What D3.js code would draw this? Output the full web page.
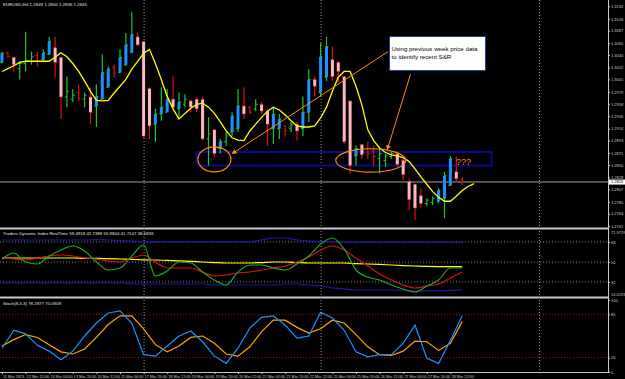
<!DOCTYPE html>
<html>
<head>
<meta charset="utf-8">
<script src="https://cdn.jsdelivr.net/npm/d3@7/dist/d3.min.js"></script>
<style>
  body { margin: 0; background: #000; }
  svg { display: block; font-family: "Liberation Sans", Arial, sans-serif; }
</style>
</head>
<body>
<div id="chart"></div>
<script>
// ---- data (EURUSD H4) ----
let open  = [1.3031,1.3048,1.3040,1.3020,1.3029,1.3033,1.3043,1.3036,1.3045,1.3057,1.3040,1.2970,1.2966,1.2978,1.2966,1.2970,1.2954,1.2966,1.2987,1.3022,1.3013,1.3027,1.3048,1.3076,1.3068,1.2985,1.2922,1.2940,1.2943,1.2966,1.2949,1.2957,1.2963,1.2966,1.2966,1.2896,1.2912,1.2879,1.2891,1.2908,1.2914,1.2954,1.2952,1.2949,1.2957,1.2945,1.2914,1.2914,1.2919,1.2914,1.2922,1.2914,1.2943,1.3001,1.2978,1.3005,1.3036,1.3031,1.3006,1.2963,1.2866,1.2886,1.2879,1.2875,1.2861,1.2858,1.2865,1.2870,1.2858,1.2821,1.2816,1.2796,1.2782,1.2784,1.2786,1.2791,1.2814,1.2838,1.2824];
let high  = [1.3050,1.3050,1.3041,1.3033,1.3085,1.3050,1.3050,1.3054,1.3076,1.3076,1.3041,1.3006,1.2984,1.2992,1.2978,1.2987,1.2992,1.3045,1.3024,1.3027,1.3054,1.3083,1.3120,1.3083,1.3068,1.2987,1.2949,1.2987,1.2984,1.3006,1.2978,1.2975,1.2966,1.2970,1.2970,1.2934,1.2914,1.2896,1.2908,1.2943,1.2984,1.2987,1.2954,1.2966,1.2961,1.2949,1.2952,1.2940,1.2919,1.2926,1.2926,1.2971,1.3019,1.3006,1.3066,1.3076,1.3059,1.3033,1.3006,1.2963,1.2884,1.2887,1.2891,1.2884,1.2879,1.2870,1.2873,1.2873,1.2861,1.2826,1.2817,1.2809,1.2791,1.2795,1.2809,1.2838,1.2866,1.2865,1.2828];
let low   = [1.3029,1.3040,1.3013,1.3001,1.3015,1.3027,1.3024,1.3033,1.3045,1.3005,1.2931,1.2952,1.2961,1.2963,1.2952,1.2922,1.2917,1.2966,1.2987,1.3005,1.3013,1.3024,1.3048,1.3059,1.2896,1.2896,1.2891,1.2928,1.2943,1.2949,1.2934,1.2952,1.2943,1.2943,1.2893,1.2849,1.2865,1.2870,1.2884,1.2901,1.2908,1.2931,1.2940,1.2945,1.2940,1.2884,1.2887,1.2896,1.2900,1.2908,1.2893,1.2901,1.2926,1.2971,1.2971,1.2998,1.2998,1.2996,1.2887,1.2835,1.2849,1.2861,1.2861,1.2849,1.2835,1.2847,1.2861,1.2847,1.2823,1.2770,1.2753,1.2774,1.2777,1.2779,1.2782,1.2756,1.2814,1.2821,1.2815];
let close = [1.3047,1.3041,1.3027,1.3029,1.3034,1.3041,1.3033,1.3048,1.3068,1.3031,1.2970,1.2980,1.2973,1.2968,1.2973,1.2943,1.2971,1.3013,1.3019,1.3012,1.3040,1.3062,1.3080,1.3062,1.2901,1.2919,1.2940,1.2952,1.2966,1.2952,1.2961,1.2966,1.2952,1.2949,1.2896,1.2905,1.2870,1.2891,1.2901,1.2936,1.2954,1.2940,1.2943,1.2957,1.2945,1.2922,1.2940,1.2931,1.2910,1.2921,1.2910,1.2943,1.3001,1.2989,1.3041,1.3059,1.3006,1.3015,1.2891,1.2849,1.2879,1.2868,1.2870,1.2865,1.2870,1.2866,1.2870,1.2851,1.2833,1.2789,1.2774,1.2782,1.2788,1.2791,1.2805,1.2831,1.2861,1.2826,1.2820];
// centred moving average (yellow), one value per bar, runs 2 bars past the last candle
let maLine = [1.3015,1.3020,1.3025,1.3031,1.3033,1.3033,1.3033,1.3033,1.3033,1.3040,1.3048,1.3041,1.3029,1.3015,1.2998,1.2980,1.2964,1.2963,1.2964,1.2977,1.2989,1.3001,1.3019,1.3033,1.3047,1.3054,1.3029,1.3001,1.2971,1.2949,1.2931,1.2941,1.2950,1.2957,1.2959,1.2952,1.2941,1.2926,1.2910,1.2898,1.2894,1.2893,1.2910,1.2922,1.2934,1.2945,1.2952,1.2947,1.2938,1.2928,1.2919,1.2917,1.2917,1.2919,1.2933,1.2952,1.2980,1.3005,1.3015,1.3015,1.2989,1.2956,1.2912,1.2893,1.2880,1.2872,1.2868,1.2866,1.2863,1.2856,1.2843,1.2829,1.2816,1.2803,1.2793,1.2786,1.2786,1.2795,1.2805,1.2812,1.2817];

let priceTicks = [1.3130,1.3108,1.3087,1.3065,1.3044,1.3022,1.3001,1.2979,1.2958,1.2936,1.2914,1.2893,1.2871,1.2850,1.2828,1.2807,1.2785,1.2764,1.2742];
let timeLabels = ["11 Mar 2013","12 Mar 12:00","13 Mar 04:00","13 Mar 20:00","14 Mar 12:00","15 Mar 04:00","17 Mar 20:00","18 Mar 12:00","19 Mar 04:00","19 Mar 20:00","20 Mar 12:00","21 Mar 04:00","21 Mar 20:00","22 Mar 12:00","25 Mar 04:00","25 Mar 20:00","26 Mar 12:00","27 Mar 04:00","27 Mar 20:00","28 Mar 12:00"];
let weekBreaks = [24, 54, 91];

// TDI lines, one value every 2 bars
let tdiGreen  = [52.7,58.1,50,48.2,55.4,60.8,64.4,59.9,50,42.8,44.6,55.4,65.3,37.4,41.9,50,49.1,41,33.8,29.3,41,47.3,47.3,44.6,42.8,48.2,55.4,66.2,71.6,61.7,42.8,36.5,33.8,29.3,25.7,23,28.4,33.8,44.6,44.6];
let tdiRed    = [53.6,52.7,51.8,53.6,55.4,56.3,55.4,53.6,52.7,50.9,50,53.6,56.3,50,44.6,44.6,44.6,41,37.4,38.3,40.1,41,42.8,44.6,46.4,50,54.5,60.8,64.4,60.8,53.6,46.4,39.2,33.8,29.3,26.6,28.4,30.2,35.6,41];
let tdiYellow = [53.6,53.6,53.6,53.6,53.6,53.6,53.6,53.2,53.2,53,52.7,52.3,52,51.8,51.4,51,50.5,50,49.5,49.1,49.1,49.1,49.5,50,50,49.5,49.1,49.1,49.1,49.1,48.6,48.2,47.8,47.3,46.8,46.4,46,45.9,45.9,45.9];
let tdiUpper  = [69.8,69.8,69.8,69.8,69.8,69.8,69.8,69.8,70.2,69.8,69.3,68.9,68.4,68.4,68.4,68.4,68.4,68.4,68.4,68.4,68.4,68.4,69.8,71.6,71.6,69.8,68.9,68.4,68.4,67.9,67.9,67.9,67.9,67.9,67.9,67.9,67.9,67.9,67.9,67.9];
let tdiLower  = [31.1,31.1,31.1,31.1,31.1,31.1,31.1,31.1,31.1,31.1,31.1,30.2,30.2,30.2,30.2,30.2,30.2,30.2,29.3,29.3,29.3,29.3,29.3,29.3,30.2,30.2,29.3,28.4,26.6,25.7,24.8,24.8,24.8,24.8,24.4,24,24,24,24.4,24.8];
let tdiLevels = [68, 50, 32];
let tdiRange  = ["71.9729", "14.0193"];

// Stochastic (8,3,3), one value every 2 bars
let stochMain   = [33,58,53,37,29,17,29,50,68,82,85,68,24,22,36,50,57,42,22,12,33,61,76,78,65,47,50,83,75,58,28,21,24,24,40,65,19,12,44,78];
let stochSignal = [36,45,52,48,38,28,25,32,48,66,78,78,60,38,28,36,48,50,40,25,22,35,56,72,72,62,54,60,72,68,52,35,24,23,29,43,42,30,40,70];
let stochLevels = [80, 20];

// ---- layout ----
const W = 625, H = 379;
const plotR = 608;
const main = {top: 0, bottom: 228};
const tdiP = {top: 229, bottom: 296};
const stoP = {top: 298, bottom: 372};

const svg = d3.select("#chart").append("svg")
    .attr("width", W).attr("height", H)
    .style("background", "#000");

const X = d3.scaleLinear().domain([0, 1]).range([2, 7.9]);
const Y = d3.scaleLinear().domain([1.31411, 1.27388]).range([main.top, main.bottom]);
const Ytdi = d3.scaleLinear().domain([68, 32]).range([242, 282]);
const Ysto = d3.scaleLinear().domain([100, 0]).range([300, 372]);

// panel frames
svg.append("g").selectAll("line")
    .data([main.bottom, tdiP.bottom + 1])
    .enter().append("line")
    .attr("x1", 0).attr("x2", plotR)
    .attr("y1", d => d + 0.5).attr("y2", d => d + 0.5)
    .attr("stroke", "#c8c8c8").attr("stroke-width", 2);
svg.append("line")
    .attr("x1", plotR + 0.5).attr("x2", plotR + 0.5)
    .attr("y1", 0).attr("y2", stoP.bottom)
    .attr("stroke", "#c8c8c8");
svg.append("line")
    .attr("x1", 0).attr("x2", plotR)
    .attr("y1", stoP.bottom + 0.5).attr("y2", stoP.bottom + 0.5)
    .attr("stroke", "#c8c8c8");

// week separators
svg.append("g").selectAll("line")
    .data(weekBreaks)
    .enter().append("line")
    .attr("x1", d => X(d) + 0.5).attr("x2", d => X(d) + 0.5)
    .attr("y1", 0).attr("y2", stoP.bottom)
    .attr("stroke", "#9a9a9a").attr("stroke-dasharray", "1,2");

// S&R box
svg.append("rect")
    .attr("x", X(33)).attr("y", Y(1.2873))
    .attr("width", X(83.0) - X(33)).attr("height", Y(1.2849) - Y(1.2873))
    .attr("fill", "none").attr("stroke", "#0a0a90").attr("stroke-width", 2);

// bid line
const bid = close[close.length - 1];
svg.append("line")
    .attr("x1", 0).attr("x2", plotR)
    .attr("y1", Y(bid)).attr("y2", Y(bid))
    .attr("stroke", "#a0a0a0");

// bars
const bars = svg.append("g").selectAll("g")
    .data(d3.range(open.length))
    .enter().append("g");
bars.append("line")
    .attr("x1", i => X(i)).attr("x2", i => X(i))
    .attr("y1", i => Y(high[i])).attr("y2", i => Y(low[i]))
    .attr("stroke", i => close[i] >= open[i] ? "#22c422" : "#e01010")
    .attr("stroke-width", 1.2);
bars.append("rect")
    .attr("x", i => X(i) - 1.5)
    .attr("width", 3)
    .attr("y", i => Y(Math.max(open[i], close[i])))
    .attr("height", i => Math.max(1, Math.abs(Y(open[i]) - Y(close[i]))))
    .attr("fill", i => close[i] >= open[i] ? "#1e90ff" : "#ffb6c1")
    .attr("opacity", i => Math.abs(Y(open[i]) - Y(close[i])) > 6 ? 1 : 0);
bars.append("line")
    .attr("x1", i => X(i) - 2).attr("x2", i => X(i))
    .attr("y1", i => Y(open[i])).attr("y2", i => Y(open[i]))
    .attr("stroke", i => close[i] >= open[i] ? "#22c422" : "#e01010");
bars.append("line")
    .attr("x1", i => X(i)).attr("x2", i => X(i) + 2)
    .attr("y1", i => Y(close[i])).attr("y2", i => Y(close[i]))
    .attr("stroke", i => close[i] >= open[i] ? "#22c422" : "#e01010");

// yellow MA
svg.append("path")
    .datum(maLine)
    .attr("fill", "none").attr("stroke", "#ffff00").attr("stroke-width", 1.3)
    .attr("d", d3.line().x((d, i) => X(i)).y(d => Y(d)));

// annotations
const orange = "#ff8c00";
svg.append("ellipse")
    .attr("cx", X(36)).attr("cy", Y(1.2860))
    .attr("rx", 16.5).attr("ry", 12.5)
    .attr("fill", "none").attr("stroke", orange).attr("stroke-width", 1.2);
svg.append("ellipse")
    .attr("cx", X(62.5)).attr("cy", Y(1.2858))
    .attr("rx", 35).attr("ry", 11.7)
    .attr("fill", "none").attr("stroke", orange).attr("stroke-width", 1.2);

svg.append("defs").append("marker")
    .attr("id", "arr").attr("viewBox", "0 0 10 10")
    .attr("refX", 9).attr("refY", 5)
    .attr("markerWidth", 5).attr("markerHeight", 5)
    .attr("orient", "auto")
    .append("path").attr("d", "M0,0L10,5L0,10z").attr("fill", orange);
svg.append("line")
    .attr("x1", 388).attr("y1", Y(1.3050))
    .attr("x2", X(39)).attr("y2", Y(1.2870))
    .attr("stroke", orange).attr("marker-end", "url(#arr)");
svg.append("line")
    .attr("x1", 410.5).attr("y1", Y(1.3010))
    .attr("x2", X(65.3)).attr("y2", Y(1.2877))
    .attr("stroke", orange).attr("marker-end", "url(#arr)");

const note = svg.append("g");
note.append("rect")
    .attr("x", 389.5).attr("y", 36.5).attr("width", 96).attr("height", 34)
    .attr("fill", "#fff").attr("stroke", "#2040a0");
note.append("text").attr("x", 391.5).attr("y", 51)
    .attr("font-size", 6.2).attr("fill", "#000")
    .text("Using previous week price data");
note.append("text").attr("x", 391.5).attr("y", 58.5)
    .attr("font-size", 6.2).attr("fill", "#000")
    .text("to identify recent S&R");
svg.append("text")
    .attr("x", 456).attr("y", 165)
    .attr("font-size", 9).attr("fill", orange)
    .text("???");

// ---- TDI panel ----
const sx = (d, i) => X(i * 2);
svg.append("g").selectAll("line")
    .data(tdiLevels)
    .enter().append("line")
    .attr("x1", 0).attr("x2", plotR)
    .attr("y1", d => Ytdi(d)).attr("y2", d => Ytdi(d))
    .attr("stroke", "#808080").attr("stroke-dasharray", "1,2");
[[tdiUpper, "#1a1aa8"], [tdiLower, "#1a1aa8"], [tdiYellow, "#ffff00"], [tdiRed, "#e01010"], [tdiGreen, "#22a822"]]
    .forEach(([arr, col]) => {
        svg.append("path").datum(arr)
            .attr("fill", "none").attr("stroke", col).attr("stroke-width", 1.2)
            .attr("d", d3.line().curve(d3.curveMonotoneX).x(sx).y(d => Ytdi(d)));
    });

// ---- Stochastic panel ----
svg.append("g").selectAll("line")
    .data(stochLevels)
    .enter().append("line")
    .attr("x1", 0).attr("x2", plotR)
    .attr("y1", d => Ysto(d)).attr("y2", d => Ysto(d))
    .attr("stroke", "#c01010").attr("stroke-dasharray", "1,2");
[[stochSignal, "#ffa500"], [stochMain, "#1e90ff"]].forEach(([arr, col]) => {
    svg.append("path").datum(arr)
        .attr("fill", "none").attr("stroke", col).attr("stroke-width", 1.2)
        .attr("d", d3.line().x(sx).y(d => Ysto(d)));
});

// ---- axes ----
const styleAxis = (g, size) => {
    g.select(".domain").remove();
    g.selectAll("line").attr("stroke", "#c8c8c8");
    g.selectAll("text").attr("fill", "#c8c8c8").attr("font-size", size).attr("x", 3);
};
const yAxis = d3.axisRight(Y).tickValues(priceTicks).tickFormat(d3.format(".4f")).tickSize(2);
svg.append("g").attr("transform", `translate(${plotR},0)`).call(yAxis).call(g => styleAxis(g, 4));

svg.append("rect").attr("x", plotR + 1).attr("y", Y(bid) - 2.4).attr("width", 16).attr("height", 5).attr("fill", "#fff");
svg.append("text").attr("x", plotR + 3).attr("y", Y(bid) + 1.5)
    .attr("font-size", 4).attr("fill", "#000")
    .text(d3.format(".4f")(bid));

const tdiAxis = d3.axisRight(Ytdi).tickValues(tdiLevels).tickSize(2);
svg.append("g").attr("transform", `translate(${plotR},0)`).call(tdiAxis).call(g => styleAxis(g, 4));
svg.append("g").selectAll("text")
    .data(tdiRange)
    .enter().append("text")
    .attr("x", plotR + 3).attr("y", (d, i) => i ? tdiP.bottom - 0.5 : tdiP.top + 5)
    .attr("font-size", 4).attr("fill", "#c8c8c8")
    .text(d => d);
const stoAxis = d3.axisRight(Ysto).tickValues([100].concat(stochLevels, [0])).tickSize(2);
svg.append("g").attr("transform", `translate(${plotR},0)`).call(stoAxis).call(g => styleAxis(g, 4));

const xAxis = d3.axisBottom(X).tickValues(d3.range(timeLabels.length).map(k => k * 4))
    .tickFormat((d, k) => timeLabels[k]).tickSize(2);
svg.append("g").attr("transform", `translate(0,${stoP.bottom})`).call(xAxis)
    .call(g => styleAxis(g, 3.8))
    .call(g => g.selectAll("text").attr("text-anchor", "start").attr("x", 0.5).attr("y", 3));

// titles
const titleStyle = t => t.attr("fill", "#e0e0e0").attr("font-size", 4.4);
svg.append("text").attr("x", 3).attr("y", 6).call(titleStyle)
    .text("EURUSD,H4  1.2849 1.2850 1.2836 1.2845");
svg.append("text").attr("x", 3).attr("y", tdiP.top + 6).call(titleStyle)
    .text("Traders Dynamic Index RealTime 59.4918 42.7388 55.9804 41.7147 38.6833");
svg.append("text").attr("x", 3).attr("y", stoP.top + 7).call(titleStyle)
    .text("Stoch(8,3,3) 78.2977 70.0909");
</script>
</body>
</html>
